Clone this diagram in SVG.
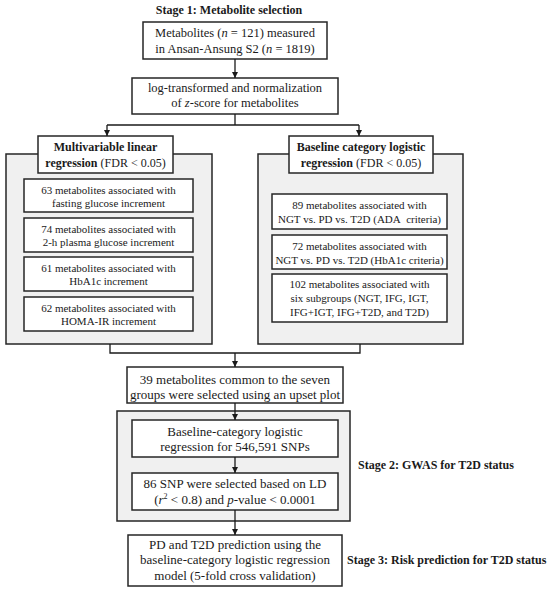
<svg xmlns="http://www.w3.org/2000/svg" width="550" height="593" viewBox="0 0 550 593">
<defs>
<marker id="ah" markerUnits="userSpaceOnUse" markerWidth="6" markerHeight="6" viewBox="0 0 6 6" refX="6" refY="3" orient="auto">
<path d="M0,0 L6,3 L0,6 z" fill="#1a1a1a"/>
</marker>
</defs>
<style>
text{font-family:"Liberation Serif","Times New Roman",serif;fill:#1a1a1a;text-anchor:middle}
.b{font-weight:bold}
.t{font-size:12.5px}
.s{font-size:11px}
.m{font-size:13px}
.h{font-size:12px}
.box{fill:#fff;stroke:#262626;stroke-width:1.5}
.grp{fill:#f0f0f0;stroke:#262626;stroke-width:1.5}
.c{fill:none;stroke:#1a1a1a;stroke-width:1.3}
.l{text-anchor:start}
</style>
<rect width="550" height="593" fill="#fff"/>

<text id="stage1" class="b h" x="229" y="14">Stage 1: Metabolite selection</text>

<g id="n_metabolites">
<rect class="box" x="143" y="22" width="184" height="37"/>
<text class="t" x="235" y="37">Metabolites (<tspan font-style="italic">n</tspan> = 121) measured</text>
<text class="t" x="235" y="53">in Ansan-Ansung S2 (<tspan font-style="italic">n</tspan> = 1819)</text>
</g>

<g id="n_log">
<rect class="box" x="132" y="78" width="206" height="36"/>
<text class="t" x="235" y="92">log-transformed and normalization</text>
<text class="t" x="235" y="107">of <tspan font-style="italic">z</tspan>-score for metabolites</text>
</g>

<g id="g_left">
<rect class="grp" x="6" y="154" width="206" height="190"/>
</g>
<g id="g_right">
<rect class="grp" x="258" y="154" width="205" height="190"/>
</g>

<g id="n_mlr">
<rect class="box" x="38" y="136" width="135" height="37"/>
<text class="b h" x="105.5" y="151">Multivariable linear</text>
<text class="h" x="105.5" y="167"><tspan font-weight="bold">regression</tspan> (FDR &lt; 0.05)</text>
</g>

<g id="n_bcl">
<rect class="box" x="289" y="136" width="144" height="37"/>
<text class="b h" x="361" y="151">Baseline category logistic</text>
<text class="h" x="361" y="167"><tspan font-weight="bold">regression</tspan> (FDR &lt; 0.05)</text>
</g>

<g id="n_l1">
<rect class="box" x="24" y="179" width="169" height="33"/>
<text class="s" x="108.5" y="194">63 metabolites associated with</text>
<text class="s" x="108.5" y="207">fasting glucose increment</text>
</g>
<g id="n_l2">
<rect class="box" x="24" y="218" width="169" height="34"/>
<text class="s" x="108.5" y="233">74 metabolites associated with</text>
<text class="s" x="108.5" y="246">2-h plasma glucose increment</text>
</g>
<g id="n_l3">
<rect class="box" x="24" y="257" width="169" height="34"/>
<text class="s" x="108.5" y="272">61 metabolites associated with</text>
<text class="s" x="108.5" y="285">HbA1c increment</text>
</g>
<g id="n_l4">
<rect class="box" x="24" y="297" width="169" height="34"/>
<text class="s" x="108.5" y="312">62 metabolites associated with</text>
<text class="s" x="108.5" y="325">HOMA-IR increment</text>
</g>

<g id="n_r1">
<rect class="box" x="272" y="194" width="175" height="35"/>
<text class="s" x="359.5" y="209">89 metabolites associated with</text>
<text class="s" x="359.5" y="223">NGT vs. PD vs. T2D (ADA&#160; criteria)</text>
</g>
<g id="n_r2">
<rect class="box" x="272" y="235" width="175" height="34"/>
<text class="s" x="359.5" y="250">72 metabolites associated with</text>
<text class="s" x="359.5" y="264">NGT vs. PD vs. T2D (HbA1c criteria)</text>
</g>
<g id="n_r3">
<rect class="box" x="272" y="274" width="175" height="48"/>
<text class="s" x="359.5" y="288">102 metabolites associated with</text>
<text class="s" x="359.5" y="302">six subgroups (NGT, IFG, IGT,</text>
<text class="s" x="359.5" y="316">IFG+IGT, IFG+T2D, and T2D)</text>
</g>

<g id="n_39">
<rect class="box" x="127" y="367" width="216" height="36"/>
<text class="m" x="235" y="384">39 metabolites common to the seven</text>
<text class="m" x="235" y="399">groups were selected using an upset plot</text>
</g>

<g id="g_stage2">
<rect class="grp" x="117" y="411" width="233" height="110"/>
</g>

<g id="n_snp">
<rect class="box" x="132" y="420" width="206" height="37"/>
<text class="m" x="235" y="436">Baseline-category logistic</text>
<text class="m" x="235" y="451">regression for 546,591 SNPs</text>
</g>

<g id="n_86">
<rect class="box" x="132" y="473" width="206" height="37"/>
<text class="m" x="235" y="488">86 SNP were selected based on LD</text>
<text class="m" x="235" y="504">(<tspan font-style="italic">r</tspan><tspan font-size="8" dy="-5">2</tspan><tspan dy="5"> &lt; 0.8) and </tspan><tspan font-style="italic">p</tspan>-value &lt; 0.0001</text>
</g>

<g id="n_pred">
<rect class="box" x="128" y="535" width="214" height="51"/>
<text class="m" x="235" y="549">PD and T2D prediction using the</text>
<text class="m" x="235" y="564">baseline-category logistic regression</text>
<text class="m" x="235" y="580">model (5-fold cross validation)</text>
</g>

<text id="stage2" class="b h l" x="358" y="469">Stage 2: GWAS for T2D status</text>
<text id="stage3" class="b h l" x="347" y="564">Stage 3: Risk prediction for T2D status</text>

<g id="connectors">
<line class="c" x1="235" y1="59" x2="235" y2="78" marker-end="url(#ah)"/>
<polyline class="c" points="235,114 235,125"/>
<polyline class="c" points="107,125 359,125"/>
<line class="c" x1="107" y1="125" x2="107" y2="136" marker-end="url(#ah)"/>
<line class="c" x1="359" y1="125" x2="359" y2="136" marker-end="url(#ah)"/>
<polyline class="c" points="110,344 110,353 360,353 360,344"/>
<line class="c" x1="235" y1="353" x2="235" y2="367" marker-end="url(#ah)"/>
<line class="c" x1="235" y1="403" x2="235" y2="420" marker-end="url(#ah)"/>
<line class="c" x1="235" y1="457" x2="235" y2="473" marker-end="url(#ah)"/>
<line class="c" x1="235" y1="510" x2="235" y2="535" marker-end="url(#ah)"/>
</g>
</svg>
